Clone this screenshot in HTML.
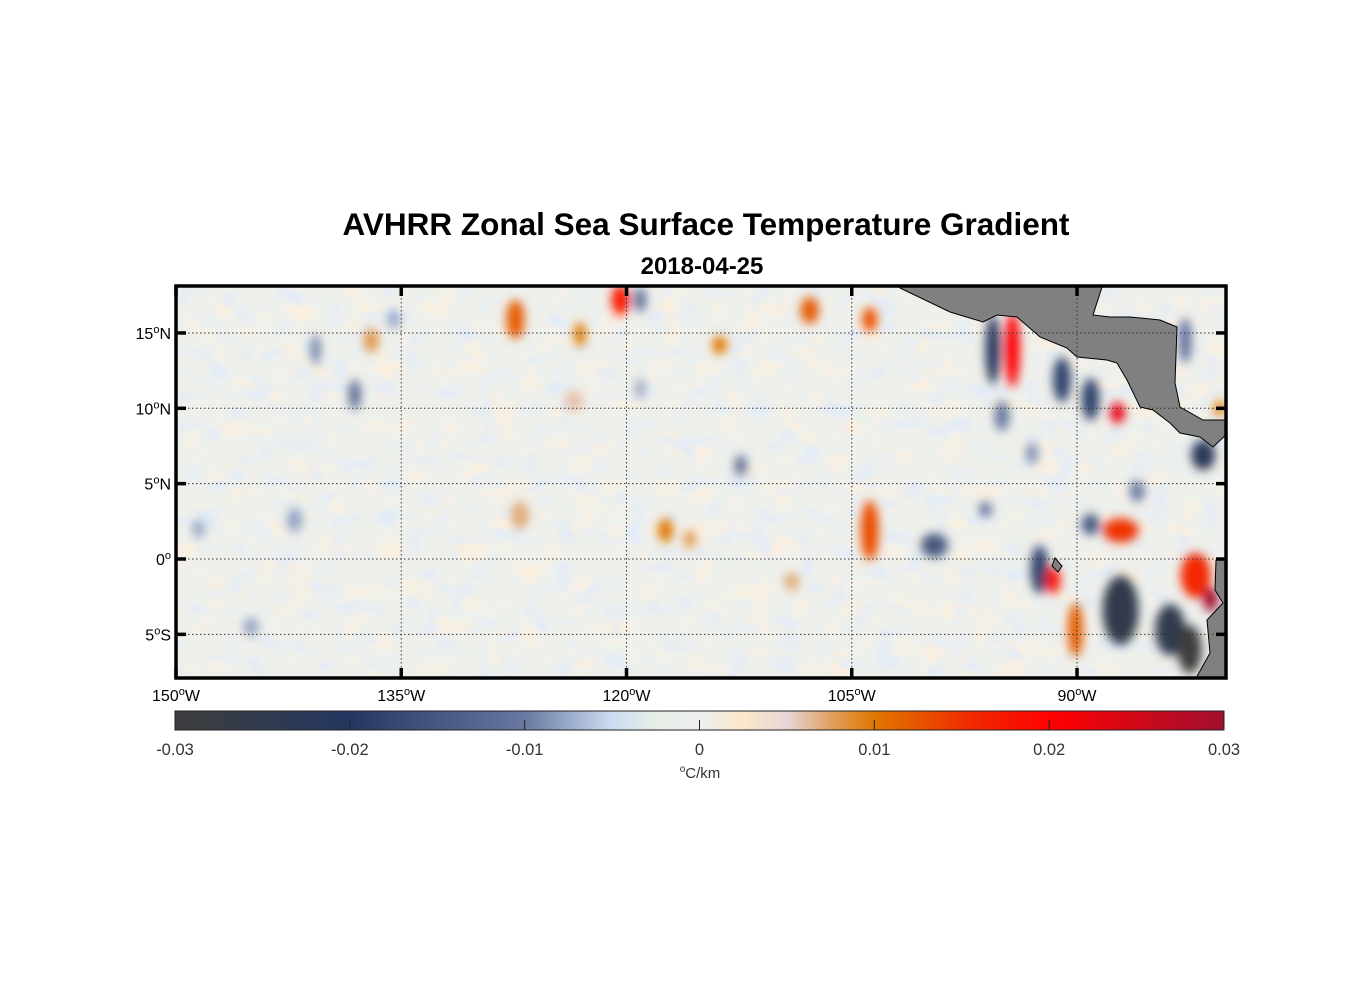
<!DOCTYPE html>
<html><head><meta charset="utf-8"><style>
body{margin:0;background:#fff;}
svg{display:block;font-family:"Liberation Sans",Arial,sans-serif;}
</style></head><body>
<svg id="chart" width="1356" height="1000" viewBox="0 0 1356 1000">
<defs>
<filter id="blur" x="-50%" y="-50%" width="200%" height="200%"><feGaussianBlur stdDeviation="5"/></filter>
<filter id="noise" x="0" y="0" width="100%" height="100%">
<feTurbulence type="fractalNoise" baseFrequency="0.035 0.05" numOctaves="2" seed="4" result="t"/>
<feColorMatrix in="t" type="matrix" values="0 0 0 0 0.98  0 0 0 0 0.86  0 0 0 0 0.72  0 0 0 3.4 -1.75" result="warm"/>
<feTurbulence type="fractalNoise" baseFrequency="0.04 0.055" numOctaves="2" seed="11" result="t2"/>
<feColorMatrix in="t2" type="matrix" values="0 0 0 0 0.75  0 0 0 0 0.83  0 0 0 0 0.95  0 0 0 3.4 -1.75" result="cool"/>
<feMerge><feMergeNode in="warm"/><feMergeNode in="cool"/></feMerge>
</filter>
<clipPath id="mapclip"><rect x="176" y="286" width="1050" height="392"/></clipPath>
<linearGradient id="cbar" x1="0" x2="1" y1="0" y2="0">
<stop offset="0" stop-color="#3d3d3d"/>
<stop offset="0.1667" stop-color="#253760"/>
<stop offset="0.3333" stop-color="#6878a0"/>
<stop offset="0.4167" stop-color="#ccdcf2"/>
<stop offset="0.4583" stop-color="#e6efe6"/>
<stop offset="0.5" stop-color="#eeeeee"/>
<stop offset="0.5417" stop-color="#fbe8cc"/>
<stop offset="0.5833" stop-color="#e8d6d8"/>
<stop offset="0.625" stop-color="#e0a060"/>
<stop offset="0.6667" stop-color="#e07800"/>
<stop offset="0.75" stop-color="#f03000"/>
<stop offset="0.8333" stop-color="#ff0000"/>
<stop offset="1" stop-color="#a01030"/>
</linearGradient>
</defs>
<text x="706" y="235" text-anchor="middle" font-size="31.5" font-weight="bold">AVHRR Zonal Sea Surface Temperature Gradient</text>
<text x="702" y="274" text-anchor="middle" font-size="24" font-weight="bold">2018-04-25</text>
<g clip-path="url(#mapclip)">
<rect x="176" y="286" width="1050" height="392" fill="#eef0ec"/>
<rect x="176" y="286" width="1050" height="392" filter="url(#noise)" opacity="0.8"/>
<g id="blobs" filter="url(#blur)"></g>
<g id="land"></g>
<g id="grid"></g>
</g>
<rect x="176" y="286" width="1050" height="392" fill="none" stroke="#000" stroke-width="3.5"/>
<g id="axes"></g>
<rect x="175" y="711" width="1049" height="19" fill="url(#cbar)" stroke="#222" stroke-width="1"/>
<g id="cbaxis"></g>
<text x="700" y="778" text-anchor="middle" font-size="15" fill="#333"><tspan font-size="10" dy="-6">o</tspan><tspan dy="6">C/km</tspan></text>
</svg>
<script>
const blobLon=[-94.3,-95.6,-91.0,-89.1,-87.3,-81.6,-87.1,-89.1,-82.1,-81.1,-87.1,-83.8,-82.5,-92.5,-91.6,-90.1,-103.8,-99.5,-96.1,-127.4,-120.4,-123.1,-113.8,-107.8,-103.8,-140.7,-138.1,-112.4,-119.1,-117.4,-115.8,-127.1,-142.1,-119.1,-135.5,-137.0,-148.5,-82.8,-80.5,-95.0,-86.0,-93.0,-109.0,-145.0,-123.5];
const blobLat=[13.9,13.9,11.9,10.6,9.7,6.9,1.9,2.3,-1.1,-2.7,-3.4,-4.7,-6.0,-0.7,-1.4,-4.7,1.9,0.9,3.3,15.9,17.2,14.9,14.2,16.5,15.9,13.9,10.9,6.2,11.3,1.9,1.3,2.9,2.6,17.2,15.9,14.5,2.0,14.5,10.0,9.5,4.5,7.0,-1.5,-4.5,10.5];
const blobRx=[0.5,0.5,0.6,0.6,0.5,0.8,1.2,0.6,1.0,0.5,1.2,1.0,0.8,0.6,0.5,0.5,0.6,0.9,0.4,0.6,0.6,0.4,0.5,0.6,0.5,0.3,0.4,0.4,0.3,0.5,0.4,0.6,0.5,0.4,0.4,0.5,0.4,0.4,0.4,0.5,0.5,0.4,0.5,0.5,0.6];
const blobRy=[2.5,2.3,1.5,1.4,0.7,1.0,0.8,0.7,1.5,0.8,2.3,1.7,1.6,1.6,0.9,1.8,2.0,0.8,0.5,1.3,1.0,0.8,0.6,0.9,0.8,1.0,1.0,0.7,0.7,0.8,0.6,0.9,0.8,0.8,0.6,0.8,0.6,1.5,0.5,1.0,0.7,0.7,0.6,0.6,0.7];
const blobVal=[0.02,-0.021,-0.018,-0.018,0.022,-0.022,0.015,-0.015,0.016,0.03,-0.026,-0.025,-0.03,-0.018,0.018,0.012,0.013,-0.015,-0.012,0.012,0.018,0.01,0.01,0.012,0.013,-0.01,-0.012,-0.012,-0.008,0.01,0.008,0.007,-0.008,-0.012,-0.008,0.008,-0.008,-0.012,0.01,-0.01,-0.01,-0.009,0.007,-0.008,0.006];
const lonTicks=[-150,-135,-120,-105,-90];
const lonLabels=["150","135","120","105","90"];
const latTicks=[15,10,5,0,-5];
const latLabels=["15","10","5","0","5"];
const latSuffix=["N","N","N","",'S'];
const cbTicks=[-0.03,-0.02,-0.01,0,0.01,0.02,0.03];
const cbLabels=["-0.03","-0.02","-0.01","0","0.01","0.02","0.03"];

const NS="http://www.w3.org/2000/svg";
const X=lon=>176+(lon+150)*15.017;
const Y=lat=>559-lat*15.07;
const stops=[[-0.03,[61,61,61]],[-0.02,[37,55,96]],[-0.01,[104,120,160]],[-0.005,[204,220,242]],[-0.0025,[230,239,230]],[0,[238,238,238]],[0.0025,[251,232,204]],[0.005,[232,214,216]],[0.0075,[224,160,96]],[0.01,[224,120,0]],[0.015,[240,48,0]],[0.02,[255,0,0]],[0.03,[160,16,48]]];
function color(v){v=Math.max(-0.03,Math.min(0.03,v));for(let i=0;i<stops.length-1;i++){const a=stops[i],b=stops[i+1];if(v<=b[0]){const t=(v-a[0])/(b[0]-a[0]);const c=a[1].map((x,k)=>Math.round(x+(b[1][k]-x)*t));return `rgb(${c})`;}}return 'rgb(160,16,48)';}
function mk(tag,attrs,parent){const e=document.createElementNS(NS,tag);for(const k in attrs)e.setAttribute(k,attrs[k]);parent.appendChild(e);return e;}
const gb=document.getElementById('blobs');
blobVal.forEach((v,i)=>{
 const e=mk('ellipse',{cx:X(blobLon[i]),cy:Y(blobLat[i]),rx:blobRx[i]*15.017,ry:blobRy[i]*15.07,fill:color(v)},gb);
 
 
});
const gl=document.getElementById('land');
const landShapes=[
 "898,284 1103,284 1093,315 1110,317 1130,317 1160,320 1177,327 1175,383 1180,407 1203,420 1228,420 1228,433 1213,447 1200,437 1180,433 1170,423 1153,410 1140,407 1127,380 1117,363 1107,360 1077,357 1067,348 1040,337 1017,317 997,315 983,322 950,312 900,288",
 "1228,558 1216,560 1215,590 1223,603 1207,620 1210,653 1195,680 1228,680",
 "1055,558 1062,566 1058,572 1052,566"
];
const landNames=['central-america-land','south-america-land','galapagos-land'];
landShapes.forEach((pts,i)=>{
 const p=mk('polygon',{points:pts,fill:'#808080',stroke:'#000','stroke-width':1},gl);
 
 
});
const gg=document.getElementById('grid'),ga=document.getElementById('axes');
lonTicks.forEach((l,i)=>{
 const x=X(l);
 const ln=mk('line',{x1:x,x2:x,y1:286,y2:678,stroke:'#333','stroke-width':1,'stroke-dasharray':'1.5 2.5'},gg);
 
 
 mk('line',{x1:x,x2:x,y1:286,y2:296,stroke:'#000','stroke-width':3.5},ga);
 mk('line',{x1:x,x2:x,y1:668,y2:678,stroke:'#000','stroke-width':3.5},ga);
 const t=mk('text',{x:x,y:701,'text-anchor':'middle','font-size':16},ga);
 t.innerHTML=lonLabels[i]+'<tspan font-size="11" dy="-6">o</tspan><tspan dy="6">W</tspan>';
 
 
});
latTicks.forEach((l,i)=>{
 const y=Y(l);
 const ln=mk('line',{x1:176,x2:1226,y1:y,y2:y,stroke:'#333','stroke-width':1,'stroke-dasharray':'1.5 2.5'},gg);
 
 
 mk('line',{x1:176,x2:186,y1:y,y2:y,stroke:'#000','stroke-width':3.5},ga);
 mk('line',{x1:1216,x2:1226,y1:y,y2:y,stroke:'#000','stroke-width':3.5},ga);
 const t=mk('text',{x:171,y:y+6,'text-anchor':'end','font-size':16},ga);
 t.innerHTML=latLabels[i]+'<tspan font-size="11" dy="-6">o</tspan><tspan dy="6">'+latSuffix[i]+'</tspan>';
 
 
});
const gc=document.getElementById('cbaxis');
const CX=v=>175+(v+0.03)/0.06*1049;
cbTicks.forEach((v,i)=>{
 const x=CX(v);
 if(i>0&&i<cbTicks.length-1) mk('line',{x1:x,x2:x,y1:720,y2:730,stroke:'#222','stroke-width':1},gc);
 const t=mk('text',{x:x,y:755,'text-anchor':'middle','font-size':16.5,fill:'#333'},gc);
 t.textContent=cbLabels[i];
 
 
});
</script>
</body></html>
